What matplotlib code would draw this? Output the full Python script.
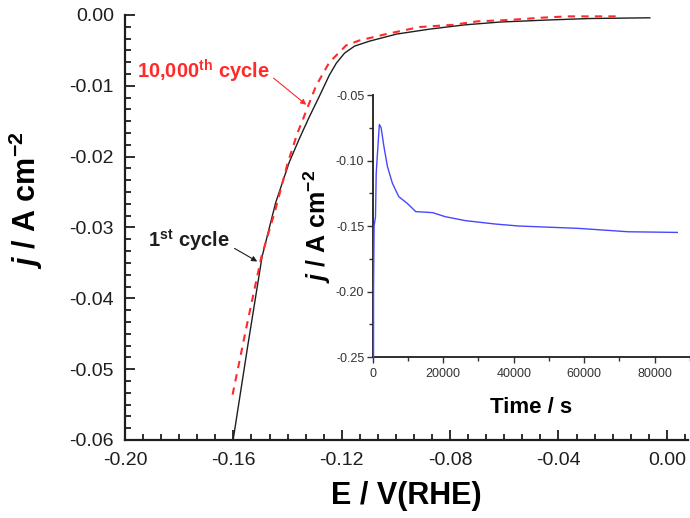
import matplotlib
matplotlib.use('Agg')
import matplotlib.pyplot as plt
from matplotlib.ticker import MultipleLocator, AutoMinorLocator, FuncFormatter, FormatStrFormatter

plt.rcParams['font.family'] = ['Liberation Sans', 'DejaVu Sans']
plt.rcParams['axes.unicode_minus'] = False
plt.rcParams['mathtext.fontset'] = 'custom'
plt.rcParams['mathtext.rm'] = 'Liberation Sans:bold'
plt.rcParams['mathtext.bf'] = 'Liberation Sans:bold'
plt.rcParams['mathtext.it'] = 'Liberation Sans:italic:bold'

# Polarization curve, 1st cycle (E in V vs RHE, j in A cm^-2)
E_first = [-0.1601, -0.1547, -0.1494, -0.1444, -0.1394, -0.1357, -0.1320, -0.1283,
           -0.1246, -0.1220, -0.1190, -0.1153, -0.1098, -0.0998, -0.0876, -0.0747,
           -0.0617, -0.0433, -0.0285, -0.0063]
j_first = [-0.0600, -0.0467, -0.0341, -0.0265, -0.0208, -0.0175, -0.0144, -0.0115,
           -0.0085, -0.0068, -0.0054, -0.0044, -0.0037, -0.0027, -0.0020, -0.0014,
           -0.0010, -0.0007, -0.0005, -0.0004]

# Polarization curve after 10,000 cycles
E_last = [-0.1603, -0.1551, -0.1497, -0.1445, -0.1401, -0.1364, -0.1342, -0.1295,
          -0.1246, -0.1184, -0.1135, -0.1036, -0.0913, -0.0791, -0.0699, -0.0580,
          -0.0470, -0.0366, -0.0189]
j_last = [-0.0536, -0.0439, -0.0342, -0.0275, -0.0211, -0.0167, -0.0146, -0.0100,
          -0.0067, -0.0043, -0.0036, -0.0027, -0.0017, -0.0014, -0.0009, -0.0007,
          -0.0004, -0.0002, -0.0002]

# Chronoamperometry at constant potential (inset)
t_inset = [250, 250, 400, 800, 1000, 1300, 1900, 2400, 3200, 4200, 5600, 7400, 9800,
           12200, 17000, 20600, 26300, 34800, 41400, 48900, 58300, 64900, 72500, 86400]
j_inset = [-0.250, -0.200, -0.150, -0.143, -0.110, -0.097, -0.0725, -0.075, -0.0895,
           -0.1047, -0.1174, -0.1276, -0.1327, -0.1390, -0.1398, -0.1429, -0.1459,
           -0.1485, -0.1500, -0.1508, -0.1518, -0.1530, -0.1544, -0.1549]

RED = '#ff2a2a'
BLUE = '#4747ff'
INK = '#1e1e1e'


def two_decimals(v, pos):
    # avoid printing "-0.00" at the origin
    if abs(v) < 1e-9:
        v = 0.0
    return f'{v:.2f}'


fig = plt.figure(figsize=(6.9, 5.18), dpi=100)
ax = fig.add_axes([0.1812, 0.1506, 0.8159, 0.8205])

ax.plot(E_first, j_first, color=INK, lw=1.0, zorder=3)
ax.plot(E_last, j_last, color=RED, lw=1.5, dashes=(3.5, 3.0), zorder=4)

ax.set_xlim(-0.2, 0.0078)
ax.set_ylim(-0.06, 0.0)
ax.xaxis.set_major_locator(MultipleLocator(0.04))
ax.xaxis.set_minor_locator(AutoMinorLocator(6))
ax.yaxis.set_major_locator(MultipleLocator(0.01))
ax.yaxis.set_minor_locator(AutoMinorLocator(6))
ax.xaxis.set_major_formatter(FuncFormatter(two_decimals))
ax.yaxis.set_major_formatter(FuncFormatter(two_decimals))
ax.tick_params(which='both', direction='in', width=1.3, labelsize=14, colors=INK)
ax.tick_params(which='major', length=7)
ax.tick_params(which='minor', length=4)
ax.tick_params(axis='y', which='major', pad=8)
ax.tick_params(axis='x', which='major', pad=9)
for side in ('top', 'right'):
    ax.spines[side].set_visible(False)
for side in ('left', 'bottom'):
    ax.spines[side].set_linewidth(1.6)
    ax.spines[side].set_color(INK)

ax.set_xlabel('E / V(RHE)', fontsize=22, fontweight='bold', labelpad=8)
ax.set_ylabel(r'$j$ / A cm$^{-2}$', fontsize=22, fontweight='bold')
ax.yaxis.set_label_coords(-0.142, 0.565)

# Cycle labels with pointer arrows
ax.annotate(r'10,000$^{\mathrm{th}}$ cycle', xy=(-0.1331, -0.01268), xytext=(-0.1956, -0.0079),
            color=RED, fontsize=14.5, fontweight='bold', ha='left', va='center',
            arrowprops=dict(arrowstyle='-|>', color=RED, lw=0.8, mutation_scale=8,
                            shrinkA=1, shrinkB=0, relpos=(1.0, 0.35)))
ax.annotate(r'1$^{\mathrm{st}}$ cycle', xy=(-0.1512, -0.0348), xytext=(-0.1615, -0.0318),
            color=INK, fontsize=14.5, fontweight='bold', ha='right', va='center',
            arrowprops=dict(arrowstyle='-|>', color=INK, lw=0.8, mutation_scale=8,
                            shrinkA=2, shrinkB=0, relpos=(1.0, 0.3)))

# Inset: current density over time
ins = fig.add_axes([0.5401, 0.3108, 0.4599, 0.5058])
ins.plot(t_inset, j_inset, color=BLUE, lw=1.0, zorder=5, clip_on=False)
ins.set_xlim(0, 90000)
ins.set_ylim(-0.25, -0.05)
ins.xaxis.set_major_locator(MultipleLocator(20000))
ins.xaxis.set_minor_locator(MultipleLocator(10000))
ins.yaxis.set_major_locator(MultipleLocator(0.05))
ins.yaxis.set_minor_locator(MultipleLocator(0.025))
ins.yaxis.set_major_formatter(FormatStrFormatter('%.2f'))
ins.tick_params(which='both', direction='out', width=1.0, labelsize=9, colors='#333333')
ins.tick_params(which='major', length=4)
ins.tick_params(which='minor', length=3)
ins.tick_params(axis='x', which='major', pad=4)
ins.tick_params(axis='y', which='major', pad=2)
for side in ('top', 'right'):
    ins.spines[side].set_visible(False)
for side in ('left', 'bottom'):
    ins.spines[side].set_linewidth(1.3)
    ins.spines[side].set_color(INK)
ins.set_xlabel('Time / s', fontsize=16, fontweight='bold', labelpad=12)
ins.set_ylabel(r'$j$ / A cm$^{-2}$', fontsize=18, fontweight='bold', labelpad=2)

fig.savefig('out.png', dpi=100)
